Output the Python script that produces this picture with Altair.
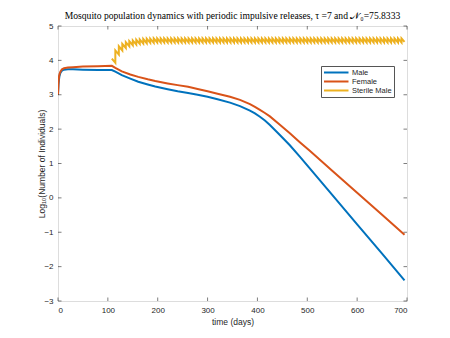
import altair as alt
import pandas as pd

# ---- data ----
time_days = [0, 1, 2, 3, 5, 8, 12, 20, 30, 50, 80, 108, 115, 128, 145, 161, 180, 195,
             220, 240, 261, 280, 300, 320, 345, 365, 385, 395, 405, 415, 425, 445, 465,
             485, 505, 550, 600, 650, 695]
male = [3.00, 3.30, 3.45, 3.55, 3.64, 3.70, 3.73, 3.74, 3.74, 3.73, 3.72, 3.72, 3.67,
        3.57, 3.47, 3.38, 3.30, 3.24, 3.16, 3.10, 3.05, 3.00, 2.94, 2.87, 2.77, 2.67,
        2.54, 2.46, 2.36, 2.25, 2.12, 1.83, 1.53, 1.20, 0.86, 0.09, -0.77, -1.62, -2.40]
female = [3.00, 3.35, 3.52, 3.60, 3.68, 3.74, 3.77, 3.79, 3.80, 3.82, 3.83, 3.84, 3.78,
          3.68, 3.59, 3.52, 3.45, 3.40, 3.33, 3.28, 3.23, 3.17, 3.10, 3.03, 2.94, 2.85,
          2.73, 2.65, 2.56, 2.47, 2.37, 2.13, 1.88, 1.62, 1.37, 0.79, 0.15, -0.49, -1.07]

# sterile male releases every tau = 7 days from day 108; value right after each release
first_release = 108
tau = 7
end_day = 695
sterile_peak = [4.05, 4.29, 4.41, 4.48, 4.53, 4.56, 4.58, 4.60, 4.61, 4.62, 4.63, 4.63, 4.64,
                4.64, 4.64, 4.64, 4.64, 4.64, 4.64, 4.64, 4.64, 4.64, 4.64,
                4.64, 4.64, 4.64, 4.64, 4.64, 4.64, 4.64, 4.64, 4.64, 4.64,
                4.64, 4.64, 4.64, 4.64, 4.64, 4.64, 4.64, 4.64, 4.64, 4.64,
                4.64, 4.64, 4.64, 4.64, 4.64, 4.64, 4.64, 4.64, 4.64, 4.64,
                4.64, 4.64, 4.64, 4.64, 4.64, 4.64, 4.64, 4.64, 4.64, 4.64,
                4.64, 4.64, 4.64, 4.64, 4.64, 4.64, 4.64, 4.64, 4.64, 4.64,
                4.64, 4.64, 4.64, 4.64, 4.64, 4.64, 4.64, 4.64, 4.64, 4.64,
                4.64]
# value just before the next release (end of each interval)
sterile_trough = [3.93, 4.17, 4.29, 4.36, 4.41, 4.44, 4.46, 4.48, 4.49, 4.50, 4.51, 4.51, 4.52,
                  4.52, 4.52, 4.52, 4.52, 4.52, 4.52, 4.52, 4.52, 4.52, 4.52,
                  4.52, 4.52, 4.52, 4.52, 4.52, 4.52, 4.52, 4.52, 4.52, 4.52,
                  4.52, 4.52, 4.52, 4.52, 4.52, 4.52, 4.52, 4.52, 4.52, 4.52,
                  4.52, 4.52, 4.52, 4.52, 4.52, 4.52, 4.52, 4.52, 4.52, 4.52,
                  4.52, 4.52, 4.52, 4.52, 4.52, 4.52, 4.52, 4.52, 4.52, 4.52,
                  4.52, 4.52, 4.52, 4.52, 4.52, 4.52, 4.52, 4.52, 4.52, 4.52,
                  4.52, 4.52, 4.52, 4.52, 4.52, 4.52, 4.52, 4.52, 4.52, 4.52,
                  4.54]

series_names = ["Male", "Female", "Sterile Male"]
series_colors = ["#0072BD", "#D95319", "#EDB120"]
x_ticks = [0, 100, 200, 300, 400, 500, 600, 700]
y_ticks = [-3, -2, -1, 0, 1, 2, 3, 4, 5]

title_text = "Mosquito population dynamics with periodic impulsive releases, τ =7 and 𝒩₀=75.8333"

# ---- build table ----
rows = []
for i, (t, m, f) in enumerate(zip(time_days, male, female)):
    rows.append({"t": t, "value": m, "series": "Male", "order": i})
    rows.append({"t": t, "value": f, "series": "Female", "order": i})

n_rel = len(sterile_peak)
release_days = [first_release + tau * k for k in range(n_rel)] + [end_day]
for k in range(n_rel):
    rows.append({"t": release_days[k], "value": sterile_peak[k], "series": "Sterile Male", "order": 2 * k})
    rows.append({"t": release_days[k + 1], "value": sterile_trough[k], "series": "Sterile Male", "order": 2 * k + 1})
df = pd.DataFrame(rows)

W, H = 349, 275
AX = "#262626"
FONT = "Liberation Sans"

xscale = alt.Scale(domain=[0, 700], nice=False, zero=False)
yscale = alt.Scale(domain=[-3, 5], nice=False, zero=False)

xaxis = alt.Axis(values=x_ticks, title="time (days)", ticks=False, domain=False, grid=False,
                 labelPadding=5, titlePadding=3, labelFontSize=8, titleFontSize=8.5,
                 labelColor=AX, titleColor=AX, labelFont=FONT, titleFont=FONT,
                 titleFontWeight="normal")
yaxis = alt.Axis(values=y_ticks, title="Log₁₀(Number of Individuals)", ticks=False, domain=False,
                 grid=False, labelPadding=5, titlePadding=-3, labelFontSize=8, titleFontSize=8.5,
                 labelColor=AX, titleColor=AX, labelFont=FONT, titleFont=FONT,
                 titleFontWeight="normal")

lines = alt.Chart(df).mark_line(strokeWidth=2, clip=True).encode(
    x=alt.X("t:Q", scale=xscale, axis=xaxis),
    y=alt.Y("value:Q", scale=yscale, axis=yaxis),
    color=alt.Color("series:N", scale=alt.Scale(domain=series_names, range=series_colors),
                    sort=series_names,
                    legend=alt.Legend(title=None, orient="none", legendX=263, legendY=40,
                                      symbolType="M-1,0H6", symbolSize=49,
                                      symbolStrokeWidth=2,
                                      labelFontSize=7.5, labelFont=FONT, labelColor=AX,
                                      labelOffset=20, rowPadding=0, padding=2,
                                      strokeColor="#555555", fillColor="white")),
    order="order:Q",
)

xt = pd.DataFrame({"t": x_ticks})
yt = pd.DataFrame({"value": y_ticks})
tick_style = dict(color=AX, strokeWidth=0.6)
xt_bottom = alt.Chart(xt).mark_rule(**tick_style).encode(
    x=alt.X("t:Q", scale=xscale, axis=xaxis), y=alt.value(H - 3.5), y2=alt.value(H))
xt_top = alt.Chart(xt).mark_rule(**tick_style).encode(
    x=alt.X("t:Q", scale=xscale, axis=xaxis), y=alt.value(0), y2=alt.value(3.5))
yt_left = alt.Chart(yt).mark_rule(**tick_style).encode(
    y=alt.Y("value:Q", scale=yscale, axis=yaxis), x=alt.value(0), x2=alt.value(3.5))
yt_right = alt.Chart(yt).mark_rule(**tick_style).encode(
    y=alt.Y("value:Q", scale=yscale, axis=yaxis), x=alt.value(W - 3.5), x2=alt.value(W))

chart = alt.layer(lines, xt_bottom, xt_top, yt_left, yt_right).properties(
    width=W, height=H,
    title=alt.Title(title_text, font="Liberation Serif", fontSize=9.6, fontWeight="normal",
                    color="#000000", anchor="middle", offset=1),
    autosize=alt.AutoSizeParams(type="none"),
    padding={"left": 50, "top": 18, "right": 35, "bottom": 30},
).configure_view(stroke=AX, strokeWidth=0.7).configure(background="white")

chart.save("out.html", embed_options={"renderer": "svg", "actions": False})
